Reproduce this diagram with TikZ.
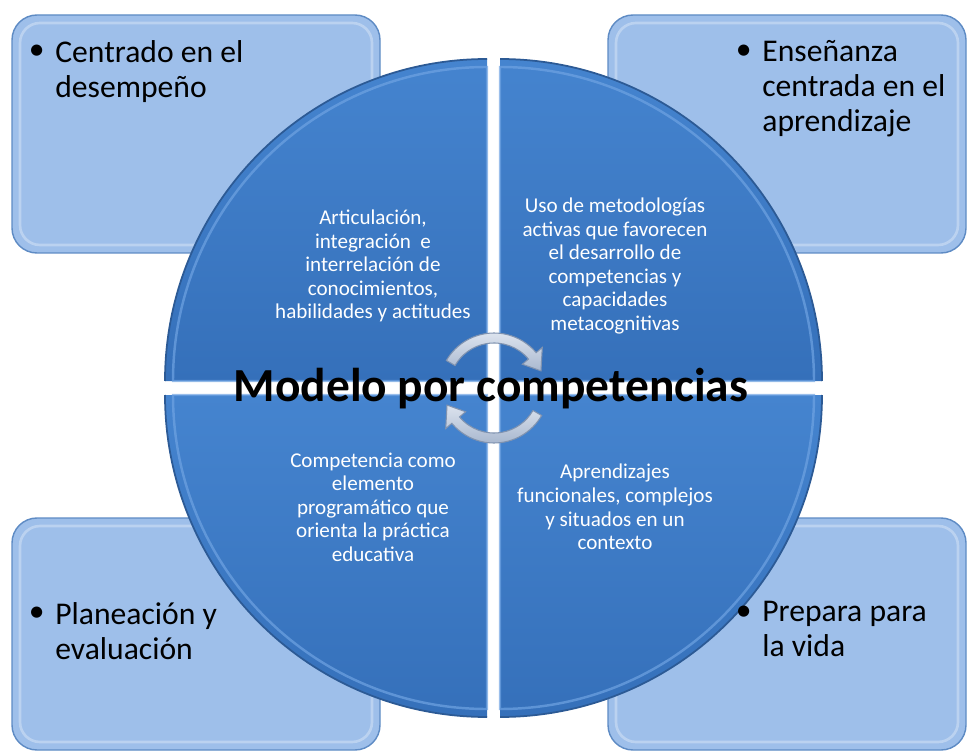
\documentclass[tikz,border=0pt]{standalone}
\usepackage{fontspec}
\setmainfont{Carlito}
\usetikzlibrary{arrows}

\definecolor{boxblue}{HTML}{9EBFEA}
\definecolor{boxline}{HTML}{5E8BC4}
\definecolor{quadtop}{HTML}{4584CF}
\definecolor{quadbot}{HTML}{3570BA}
\definecolor{quadline}{HTML}{2C5A95}
\definecolor{rimblue}{HTML}{6FA3E2}
\definecolor{arrowtop}{HTML}{DCE3EE}
\definecolor{arrowbot}{HTML}{A9B8CF}
\definecolor{arrowline}{HTML}{8093B0}

\tikzset{
	cornerbox/.style={draw=boxline, fill=boxblue, line width=0.8pt, rounded corners=0.5cm},
	boxrim/.style={draw=white, opacity=0.3, line width=1.5pt, rounded corners=0.4cm},
	quadrant/.style={top color=quadtop, bottom color=quadbot},
	quadedge/.style={draw=quadline, line width=1pt},
	quadrim/.style={draw=rimblue, line width=1.4pt, opacity=0.7},
	quadtext/.style={text=white, align=center, font=\fontsize{12}{13.4}\selectfont},
	cornertext/.style={align=left, anchor=north west, inner sep=0pt, font=\fontsize{18}{20}\selectfont, execute at begin node=\strut},
	cyclearrow/.style={draw=arrowline, line width=0.6pt, top color=arrowtop, bottom color=arrowbot}
}

\begin{document}
\begin{tikzpicture}[x=0.02cm, y=0.02cm]
		\useasboundingbox (0,0) rectangle (967,-753);
		\clip (0,0) rectangle (967,-753);
		
		% corner boxes
		\draw[cornerbox] (12,-15) rectangle (380,-253);
		\draw[cornerbox] (608,-15) rectangle (966,-253);
		\draw[cornerbox] (12,-518) rectangle (380,-750);
		\draw[cornerbox] (608,-518) rectangle (966,-750);
		\draw[boxrim] (20,-23) rectangle (372,-245);
		\draw[boxrim] (616,-23) rectangle (958,-245);
		\draw[boxrim] (20,-526) rectangle (372,-742);
		\draw[boxrim] (616,-526) rectangle (958,-742);
		
		% quadrants of the circle
		\path[quadrant] (487,-381) -- (165,-381) arc[start angle=180, end angle=90, radius=322] -- cycle;
		\path[quadrant] (500,-381) -- (500,-59) arc[start angle=90, end angle=0, radius=322] -- cycle;
		\path[quadrant] (487,-395) -- (165,-395) arc[start angle=180, end angle=270, radius=322] -- cycle;
		\path[quadrant] (500,-395) -- (822,-395) arc[start angle=0, end angle=-90, radius=322] -- cycle;
		
		\draw[quadedge] (165,-381) arc[start angle=180, end angle=90, radius=322];
		\draw[quadedge] (500,-59) arc[start angle=90, end angle=0, radius=322];
		\draw[quadedge] (165,-395) arc[start angle=180, end angle=270, radius=322];
		\draw[quadedge] (822,-395) arc[start angle=0, end angle=-90, radius=322];
		
		\draw[quadrim] (173,-381) arc[start angle=180, end angle=90, radius=314] -- (487,-381) -- cycle;
		\draw[quadrim] (500,-67) arc[start angle=90, end angle=0, radius=314] -- (500,-381) -- cycle;
		\draw[quadrim] (173,-395) arc[start angle=180, end angle=270, radius=314] -- (487,-395) -- cycle;
		\draw[quadrim] (814,-395) arc[start angle=0, end angle=-90, radius=314] -- (500,-395) -- cycle;
		
		\node[quadtext](Q1) at (373,-266){Articulación,\\integración~ e\\interrelación de\\conocimientos,\\habilidades y actitudes};
		\node[quadtext](Q2) at (615,-266){Uso de metodologías\\activas que favorecen\\el desarrollo de\\competencias y\\capacidades\\metacognitivas};
		\node[quadtext](Q3) at (373,-507){Competencia como\\elemento\\programático que\\orienta la práctica\\educativa};
		\node[quadtext](Q4) at (615,-507){Aprendizajes\\funcionales, complejos\\y situados en un\\contexto};
		
		% texts of the corner boxes
		\node[cornertext](C1) at (55,-40){Centrado en el\\desempeño};
		\node[cornertext](C2) at (762,-40){Enseñanza\\centrada en el\\aprendizaje};
		\node[cornertext](C3) at (55,-602){Planeación y\\evaluación};
		\node[cornertext](C4) at (762,-601){Prepara para\\la vida};
		\node[cornertext, anchor=north east, xshift=-0.2cm, yshift=0.1cm](D1) at (C1.north west){•};
		\node[cornertext, anchor=north east, xshift=-0.2cm, yshift=0.1cm](D2) at (C2.north west){•};
		\node[cornertext, anchor=north east, xshift=-0.2cm, yshift=0.1cm](D3) at (C3.north west){•};
		\node[cornertext, anchor=north east, xshift=-0.2cm, yshift=0.1cm](D4) at (C4.north west){•};
		
		% cycle arrows in the middle
		\begin{scope}[shift={(494,-388)}]
			\draw[cyclearrow] (150:55) arc[start angle=150, end angle=40, radius=55] -- (40:63) -- (20:50) -- (40:37) -- (40:45) arc[start angle=40, end angle=150, radius=45] -- cycle;
			\draw[cyclearrow] (330:55) arc[start angle=330, end angle=220, radius=55] -- (220:63) -- (200:50) -- (220:37) -- (220:45) arc[start angle=220, end angle=330, radius=45] -- cycle;
		\end{scope}
		
		\node[anchor=base, inner sep=0pt, font=\fontsize{27}{30}\bfseries\selectfont](TITLE) at (491,-401){Modelo por competencias};
\end{tikzpicture}
\end{document}
